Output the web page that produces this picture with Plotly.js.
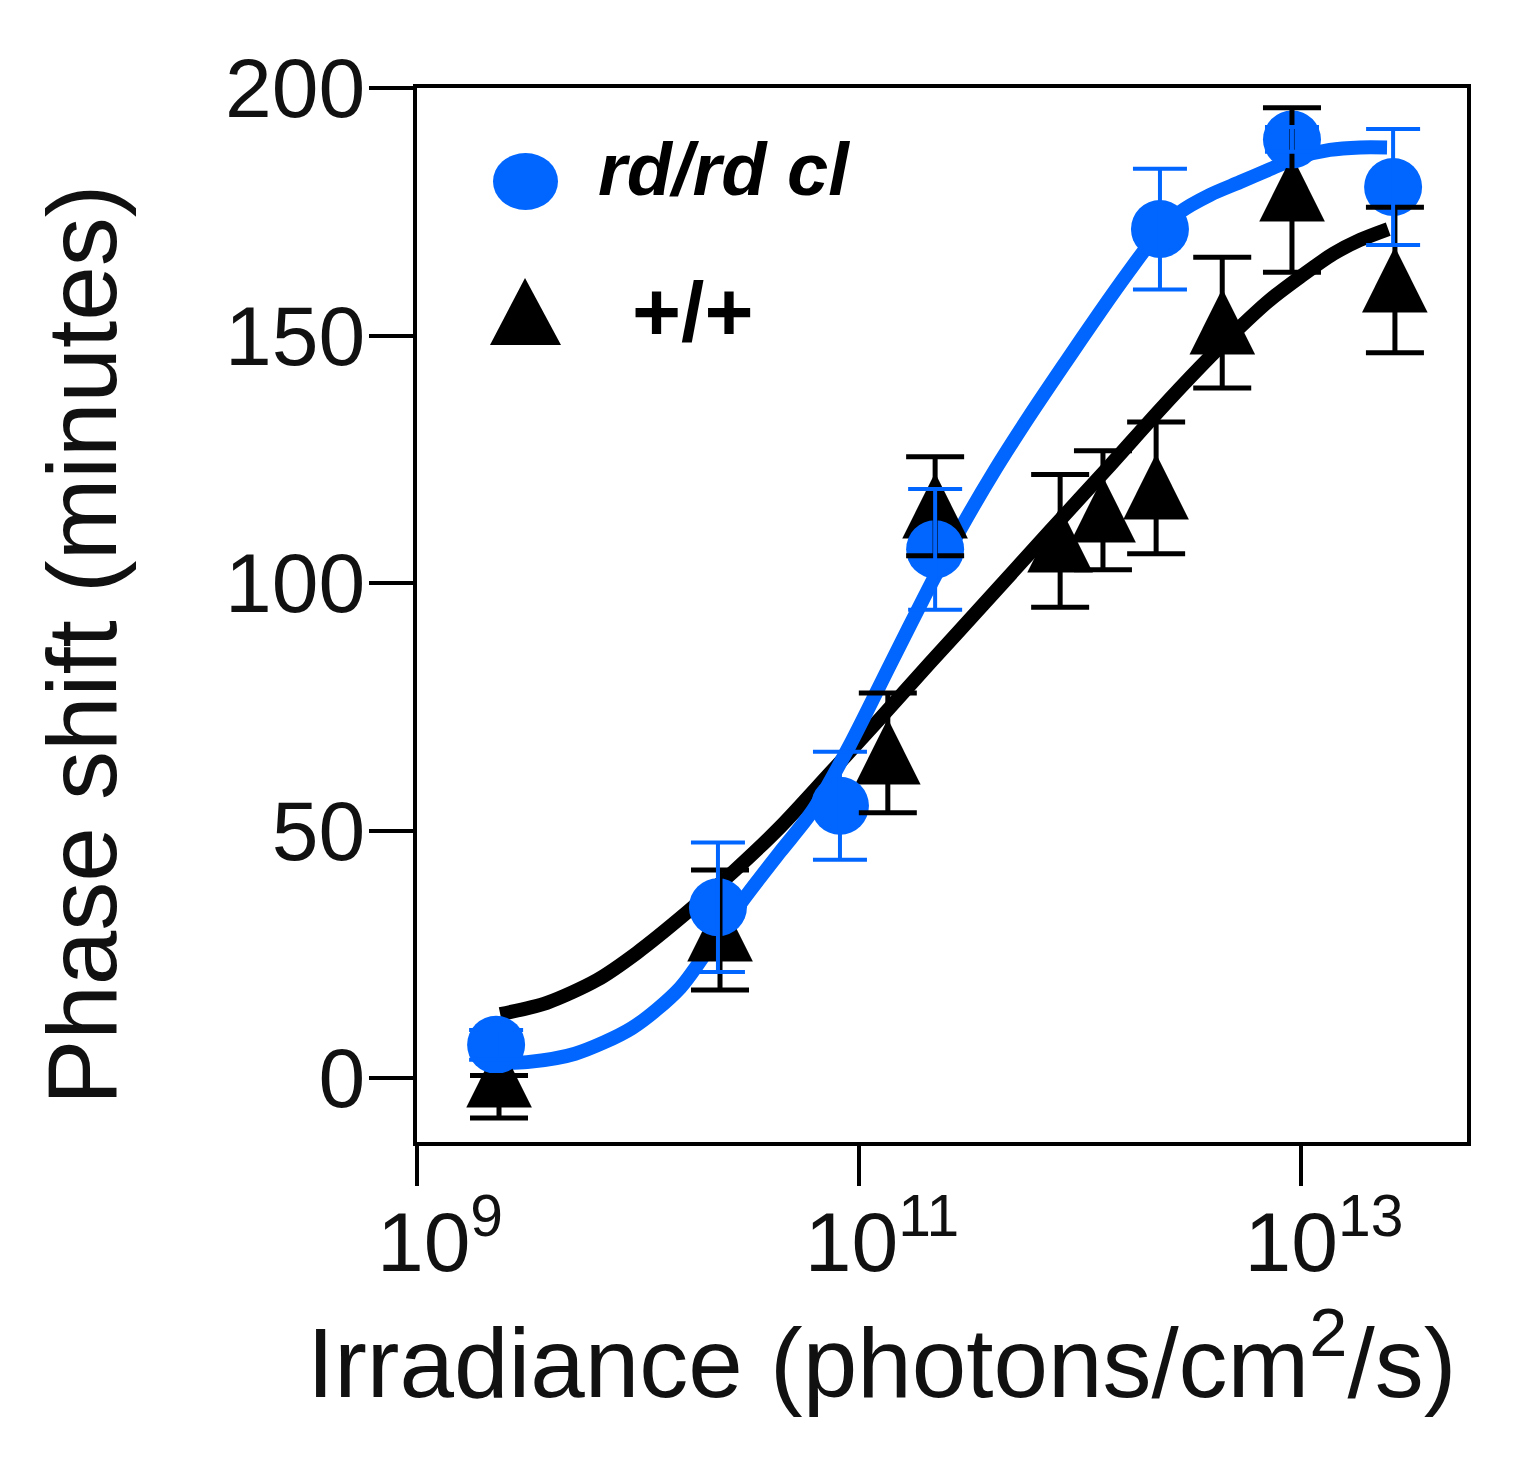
<!DOCTYPE html>
<html><head><meta charset="utf-8">
<script src="https://cdn.plot.ly/plotly-3.0.1.min.js"></script>
<style>html,body{margin:0;padding:0;background:#fff;}#chart{width:1533px;height:1462px;}</style>
</head><body><div id="chart"></div>
<script>
// rd/rd cl (blue circles): irradiance, phase shift, SEM
const rdIrradiance = [2.28e9, 2.30e10, 8.20e10, 2.21e11, 2.30e12, 9.10e12, 2.61e13];
const rdShift      = [6.7, 34.5, 55.0, 106.8, 171.5, 189.6, 180.0];
const rdSem        = [3, 13.1, 10.9, 12.2, 12.2, 2.5, 11.7];
// +/+ (black triangles); upper / lower error as seen in the figure
const wtIrradiance = [2.35e9, 2.35e10, 1.35e11, 2.21e11, 8.13e11, 1.27e12, 2.21e12, 4.40e12, 9.10e12, 2.66e13];
const wtShift      = [0.5, 29.9, 65.7, 115.5, 108.5, 114.7, 119.2, 152.6, 179.4, 161.2];
const wtSemUp      = [0, 12.1, 12.1, 10.0, 13.4, 12.0, 13.3, 13.2, 16.6, 14.7];
const wtSemDown    = [8.6, 12.1, 12.1, 10.0, 13.4, 12.0, 13.3, 13.2, 16.6, 14.7];
// fitted curves
const rdFitX = [2.30e9, 3.15e9, 5.19e9, 9.40e9, 1.55e10, 2.30e10, 3.11e10, 4.40e10, 6.19e10, 9.10e10, 1.38e11, 2.05e11, 2.86e11, 4.12e11, 5.94e11, 8.55e11, 1.23e12, 1.68e12, 2.18e12, 2.83e12, 3.87e12, 5.30e12, 7.24e12, 9.89e12, 1.35e13, 1.85e13, 2.45e13];
const rdFitY = [3.0, 3.2, 4.9, 10.1, 18.2, 28.9, 37.0, 45.7, 54.1, 67.3, 83.4, 98.6, 110.7, 122.8, 133.9, 144.4, 154.7, 163.2, 169.9, 174.9, 178.4, 181.0, 183.6, 186.1, 187.5, 188.0, 188.0];
const wtFitX = [2.38e9, 3.87e9, 6.52e9, 9.89e9, 1.67e10, 2.75e10, 4.40e10, 7.40e10, 1.25e11, 2.09e11, 3.64e11, 7.31e11, 1.37e12, 2.30e12, 3.49e12, 4.92e12, 7.24e12, 9.89e12, 1.40e13, 1.85e13, 2.48e13];
const wtFitY = [12.9, 15.2, 19.8, 25.3, 33.5, 42.0, 50.7, 61.6, 72.7, 83.8, 95.6, 110.5, 123.8, 135.0, 143.6, 150.3, 157.2, 161.8, 166.5, 169.3, 171.5];
// ticks and labels
const xTickVals = [1e9, 1e11, 1e13];
const xTickText = ['10<sup>9</sup>', '10<sup>11</sup>', '10<sup>13</sup>'];
const yTickVals = [0, 50, 100, 150, 200];
const seriesNames = ['rd/rd cl', '+/+'];
const xTitle = 'Irradiance (photons/cm<sup>2</sup>/s)';
const yTitle = 'Phase shift (minutes)';

const BLUE = '#0066ff';
const BLACK = '#000000';

const traces = [
  {x: wtFitX, y: wtFitY, type: 'scatter', mode: 'lines', line: {color: BLACK, width: 14, shape: 'spline', smoothing: 0.8}, hoverinfo: 'skip'},
  {x: rdFitX, y: rdFitY, type: 'scatter', mode: 'lines', line: {color: BLUE, width: 14, shape: 'spline', smoothing: 0.8}, hoverinfo: 'skip'},
  {x: wtIrradiance, y: wtShift, name: seriesNames[1], type: 'scatter', mode: 'text',
   text: wtShift.map(() => '\u25B2'), textposition: 'middle center',
   textfont: {family: 'DejaVu Sans', size: 86, color: BLACK}},
  {x: rdIrradiance, y: rdShift, name: seriesNames[0], type: 'scatter', mode: 'markers',
   marker: {symbol: 'circle', size: 58, color: BLUE, line: {width: 0}}},
  {x: wtIrradiance, y: wtShift, type: 'scatter', mode: 'markers', marker: {size: 1, opacity: 0},
   error_y: {type: 'data', symmetric: false, array: wtSemUp, arrayminus: wtSemDown, visible: true, color: BLACK, thickness: 5, width: 29}},
  {x: rdIrradiance, y: rdShift, type: 'scatter', mode: 'markers', marker: {size: 1, opacity: 0},
   error_y: {type: 'data', array: rdSem, visible: true, color: BLUE, thickness: 4, width: 27}}
];

const P = (px) => (px - 417) / 1050;   // pixel -> paper x
const Q = (py) => (1142 - py) / 1054;  // pixel -> paper y

const layout = {
  width: 1533, height: 1462,
  margin: {l: 417, r: 66, t: 88, b: 320, pad: 0},
  paper_bgcolor: '#ffffff', plot_bgcolor: '#ffffff',
  showlegend: false,
  font: {family: 'Liberation Sans, Arial, sans-serif', color: BLACK},
  xaxis: {
    type: 'log', range: [9, 13.751], tickmode: 'array', tickvals: xTickVals, ticktext: xTickText,
    ticks: 'outside', ticklen: 40, tickwidth: 4, tickcolor: BLACK,
    showline: true, linewidth: 4, linecolor: BLACK, mirror: true,
    showgrid: false, zeroline: false, tickfont: {size: 84, color: '#111'},
    ticklabelshift: 23, ticklabelstandoff: -16
  },
  yaxis: {
    range: [-12.93, 200], tickmode: 'array', tickvals: yTickVals,
    ticks: 'outside', ticklen: 44, tickwidth: 4, tickcolor: BLACK,
    showline: true, linewidth: 4, linecolor: BLACK, mirror: true,
    showgrid: false, zeroline: false, tickfont: {size: 84, color: '#111'},
    ticklabelstandoff: -13
  },
  annotations: [
    {text: xTitle, xref: 'paper', yref: 'paper', x: P(881), y: Q(1356), xanchor: 'center', yanchor: 'middle',
     showarrow: false, font: {size: 98, color: '#111'}},
    {text: yTitle, xref: 'paper', yref: 'paper', x: P(82), y: Q(645), xanchor: 'center', yanchor: 'middle',
     textangle: -90, showarrow: false, font: {size: 98, color: '#111'}},
    {text: '<b><i>' + seriesNames[0] + '</i></b>', xref: 'paper', yref: 'paper', x: P(596), y: Q(170),
     xanchor: 'left', yanchor: 'middle', showarrow: false, font: {size: 74, color: BLACK}},
    {text: '<b>' + seriesNames[1] + '</b>', xref: 'paper', yref: 'paper', x: P(630), y: Q(312),
     xanchor: 'left', yanchor: 'middle', showarrow: false, font: {size: 84, color: BLACK}}
  ],
  shapes: [
    {type: 'circle', xref: 'paper', yref: 'paper', x0: P(493), x1: P(558), y0: Q(210), y1: Q(153),
     fillcolor: BLUE, line: {width: 0}},
    {type: 'path', xref: 'paper', yref: 'paper',
     path: 'M ' + P(525) + ' ' + Q(278) + ' L ' + P(490) + ' ' + Q(345) + ' L ' + P(561) + ' ' + Q(345) + ' Z',
     fillcolor: BLACK, line: {width: 0}}
  ]
};

Plotly.newPlot('chart', traces, layout, {staticPlot: true, displayModeBar: false});
</script>
</body></html>
